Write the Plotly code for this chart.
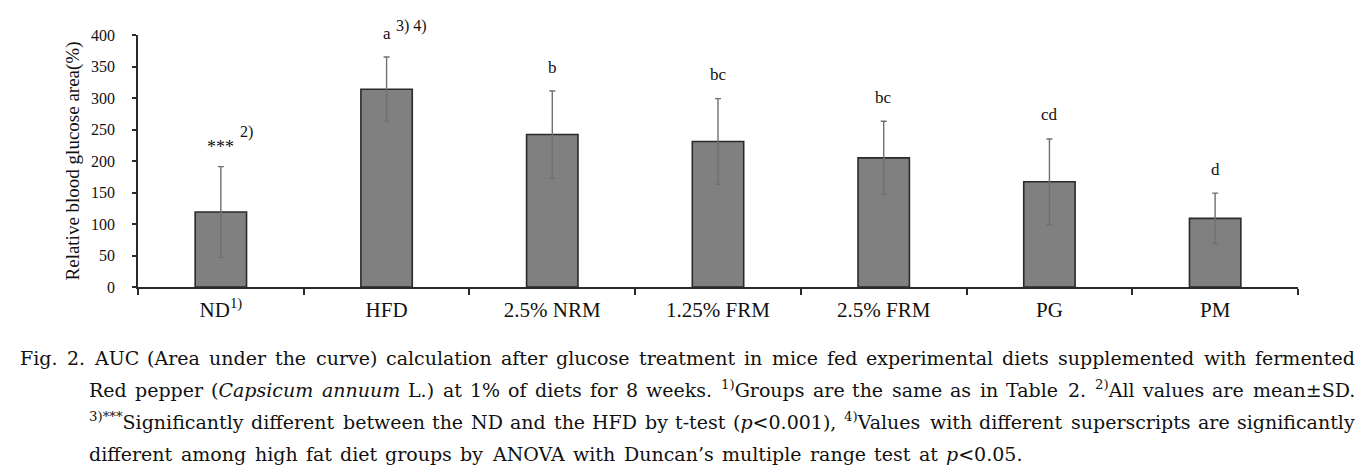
import re
import plotly.graph_objects as go

groups = ["ND", "HFD", "2.5% NRM", "1.25% FRM", "2.5% FRM", "PG", "PM"]
tick_labels = ["ND<sup>1)</sup>", "HFD", "2.5% NRM", "1.25% FRM", "2.5% FRM", "PG", "PM"]
means = [119, 314, 242, 231, 205, 167, 109]
sds = [72, 51, 69, 68, 58, 68, 40]
letters = ["***", "a", "b", "bc", "bc", "cd", "d"]
letter_sup = ["2)", "3) 4)", "", "", "", "", ""]

caption_lines = [
    "Fig. 2. AUC (Area under the curve) calculation after glucose treatment in mice fed experimental diets supplemented with fermented",
    "Red pepper (<i>Capsicum</i> <i>annuum</i> L.) at 1% of diets for 8 weeks. <sup>1)</sup>Groups are the same as in Table 2. <sup>2)</sup>All values are mean±SD.",
    "<sup>3)***</sup>Significantly different between the ND and the HFD by t-test (<i>p</i>&lt;0.001), <sup>4)</sup>Values with different superscripts are significantly",
    "different among high fat diet groups by ANOVA with Duncan’s multiple range test at <i>p</i>&lt;0.05.",
]

W, H = 1367, 470
ML, MR, MT, MB = 130, 77, 27, 191
PW = W - ML - MR
PH = H - MT - MB

SERIF = "Liberation Serif, Times New Roman, serif"
CAP_FONT = "DejaVu Serif, serif"

# DejaVu Serif advance widths (per 1000 em) for the caption layout
DW = {' ': 318, '%': 950, "'": 275, '’': 318, '(': 390, ')': 390, '*': 500, ',': 318, '-': 338,
      '.': 318, '<': 838, '±': 838, ':': 337}
for ch in '0123456789':
    DW[ch] = 636
DW.update(dict(zip('ABCDEFGHIJKLMNOPQRSTUVWXYZ',
                   [722, 735, 765, 802, 730, 694, 799, 872, 395, 401, 747, 664, 1024, 875, 820, 673, 820, 753, 685,
                    667, 843, 722, 1028, 712, 660, 695])))
DW.update(dict(zip('abcdefghijklmnopqrstuvwxyz',
                   [596, 640, 560, 640, 592, 370, 640, 643, 320, 313, 608, 320, 948, 643, 602, 640, 640, 479, 513,
                    402, 643, 565, 857, 564, 565, 524])))


def word_width(html, size):
    w = 0.0
    sup = False
    for part in re.split(r'(<[^>]+>)', html.replace('&lt;', '<')):
        if part == '<sup>':
            sup = True
            continue
        if part == '</sup>':
            sup = False
            continue
        if part in ('<i>', '</i>'):
            continue
        s = size * (0.7 if sup else 1.0)
        for ch in part:
            w += DW.get(ch, 600) * s / 1000.0
    return w


CAP_SIZE = 19
cap_baselines = [357, 389, 421, 453]
cap_left = [12, 81, 81, 81]
cap_right = 1347
cap_justify = [True, True, True, False]

fig = go.Figure()
fig.add_trace(go.Bar(
    x=groups, y=means, width=0.31,
    marker=dict(color="#808080", line=dict(color="#2a2a2a", width=1.6)),
    error_y=dict(type="data", array=sds, visible=True, color="#707070", thickness=1.4, width=3),
    showlegend=False,
))

annotations = []
for g, m, s, lab, sup in zip(groups, means, sds, letters, letter_sup):
    star = lab == "***"
    annotations.append(dict(x=g, y=m + s, xref="x", yref="y", text=lab, showarrow=False,
                            font=dict(family=SERIF, size=18 if star else 17, color="#111"),
                            xanchor="center", yanchor="middle", yshift=20 if star else 24))
    if sup:
        annotations.append(dict(x=g, y=m + s, xref="x", yref="y", text=sup, showarrow=False,
                                font=dict(family=SERIF, size=16, color="#111"),
                                xanchor="left", yanchor="middle",
                                xshift=18 if star else 8, yshift=35 if star else 31,
                                borderpad=0))

# caption: words laid out individually to reproduce the justified block
gaps = []
for line, base, left, just in zip(caption_lines, cap_baselines, cap_left, cap_justify):
    words = line.split(' ')
    widths = [word_width(w, CAP_SIZE) for w in words]
    if just:
        gap = (cap_right - left - sum(widths)) / (len(words) - 1)
        gaps.append(gap)
    else:
        gap = sum(gaps) / len(gaps)
    xpos = left
    ybot = base + 0.236 * CAP_SIZE
    n = len(words)
    for k, (w, ww) in enumerate(zip(words, widths)):
        last = just and k == n - 1
        annotations.append(dict(x=((cap_right if last else xpos) - ML) / PW, y=(H - MB - ybot) / PH,
                                xref="paper", yref="paper",
                                text=w, showarrow=False, xanchor="right" if last else "left", yanchor="bottom",
                                borderpad=0, borderwidth=0,
                                font=dict(family=CAP_FONT, size=CAP_SIZE, color="#111")))
        xpos += ww + gap

fig.update_layout(
    width=W, height=H,
    margin=dict(l=ML, r=MR, t=MT, b=MB),
    paper_bgcolor="white", plot_bgcolor="white",
    annotations=annotations,
    xaxis=dict(
        tickmode="array", tickvals=groups, ticktext=tick_labels,
        tickson="boundaries", ticks="outside", ticklen=6, tickcolor="#2a2a2a", tickwidth=1.5,
        showline=True, linecolor="#2a2a2a", linewidth=1.5,
        tickfont=dict(family=SERIF, size=21, color="#111"),
        ticklabelstandoff=3,
        showgrid=False, zeroline=False,
    ),
    yaxis=dict(
        range=[0, 400], dtick=50, ticks="outside", ticklen=4, tickcolor="#2a2a2a", tickwidth=1.5,
        showline=True, linecolor="#2a2a2a", linewidth=1.5,
        tickfont=dict(family=SERIF, size=16, color="#111"),
        ticklabelstandoff=14,
        showgrid=False, zeroline=False,
        title=dict(text="Relative blood glucose area(%)", font=dict(family=SERIF, size=19, color="#111"), standoff=6),
    ),
)

fig.write_html("out.html")
